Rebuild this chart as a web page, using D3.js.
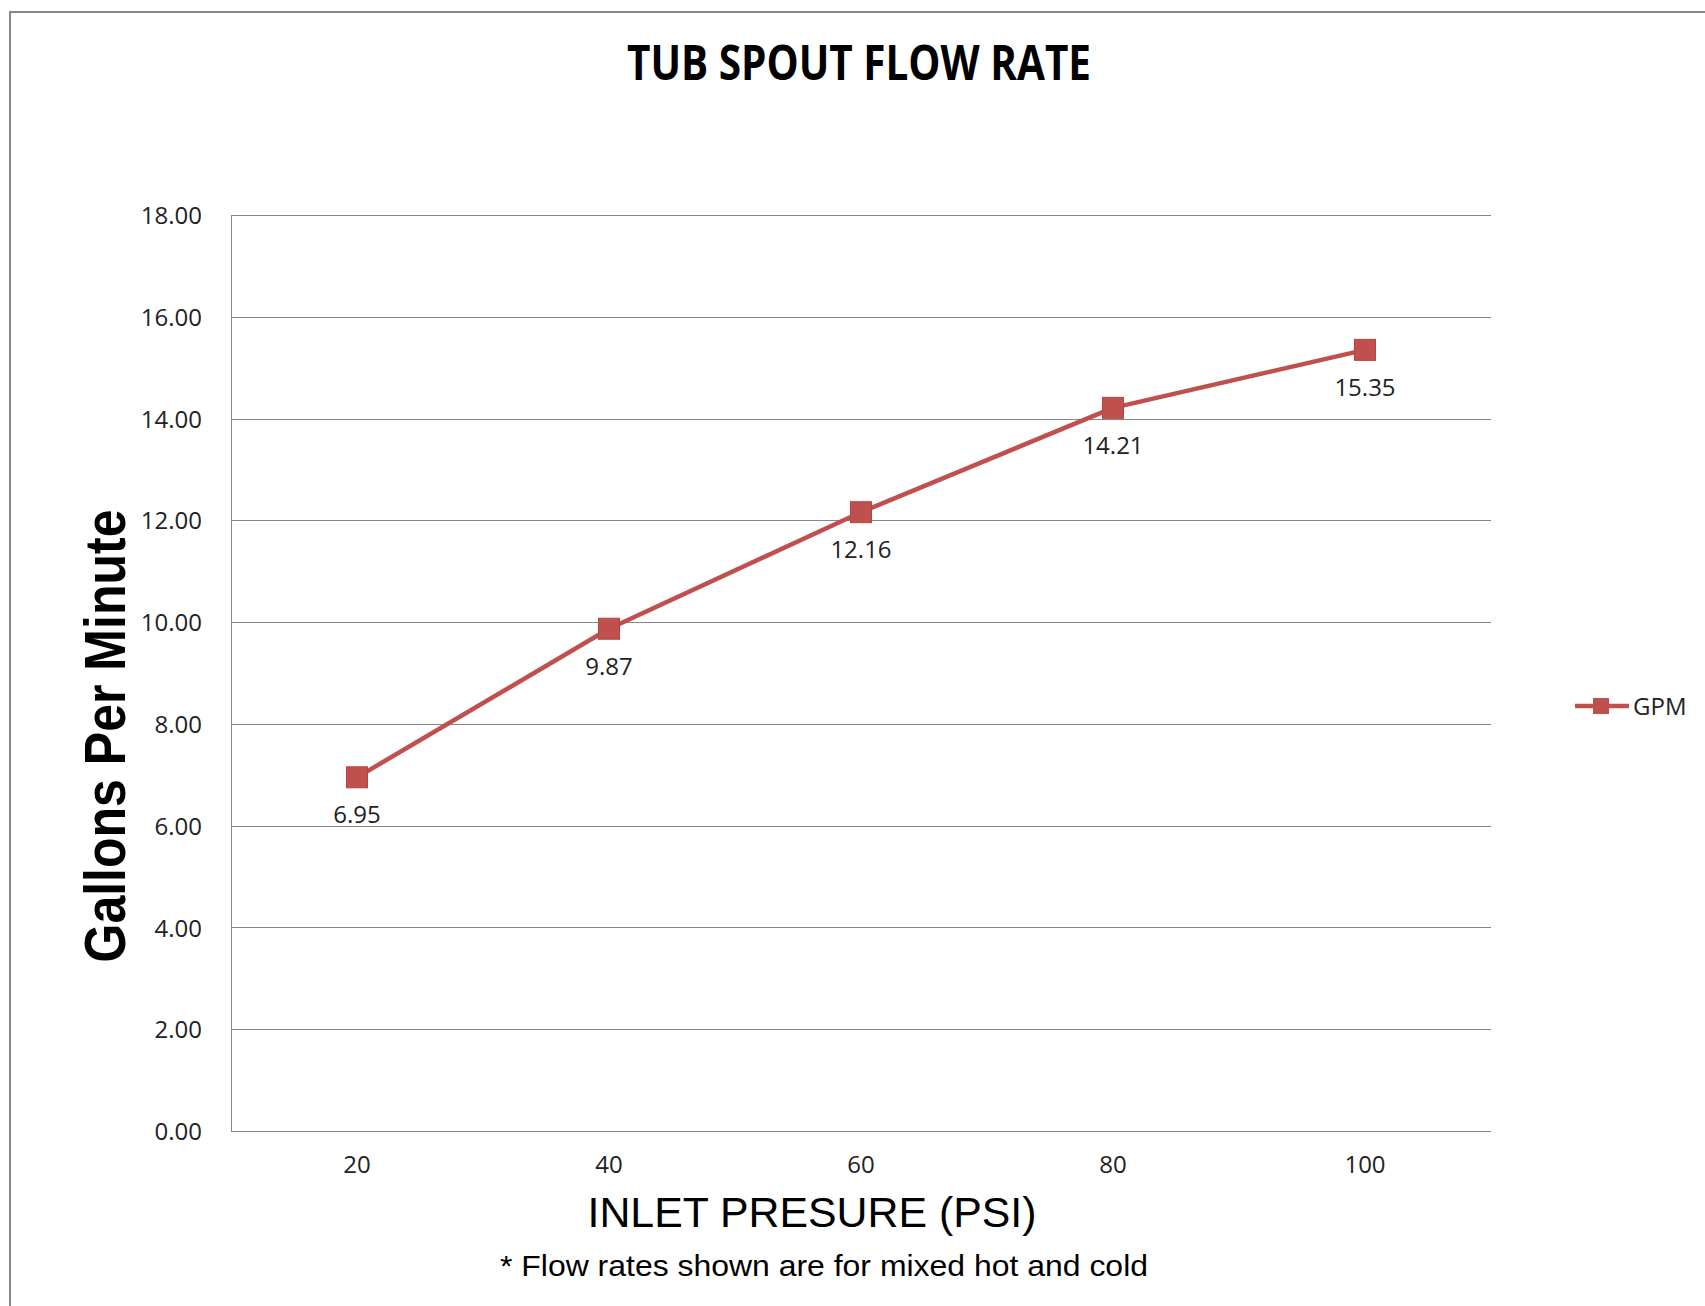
<!DOCTYPE html>
<html>
<head>
<meta charset="utf-8">
<script src="https://cdn.jsdelivr.net/npm/d3@7"></script>
<style>
  html, body { margin: 0; padding: 0; background: #fff; }
  svg { display: block; }
</style>
</head>
<body>
<script>
const categories = ["20", "40", "60", "80", "100"];
const gpmValues = [6.95, 9.87, 12.16, 14.21, 15.35];
const yTickValues = [0, 2, 4, 6, 8, 10, 12, 14, 16, 18];
const seriesName = "GPM";
const titleText = "TUB SPOUT FLOW RATE";
const xTitleText = "INLET PRESURE (PSI)";
const yTitleText = "Gallons Per Minute";
const noteText = "* Flow rates shown are for mixed hot and cold";

const W = 1705, H = 1306;
const plot = { left: 231, right: 1491, top: 215, bottom: 1131 };
const red = "#C0504D";
const grid = "#878787";

const svg = d3.select("body").append("svg").attr("width", W).attr("height", H);

// outer chart border
svg.append("rect").attr("x", 10).attr("y", 12).attr("width", W + 20).attr("height", H + 20)
  .attr("fill", "#fff").attr("stroke", "#888").attr("stroke-width", 2);

const x = d3.scaleBand().domain(categories).range([plot.left, plot.right]).padding(0);
const y = d3.scaleLinear().domain([0, 18]).range([plot.bottom, plot.top]);
const cx = d => x(d) + x.bandwidth() / 2;

// gridlines
svg.append("g").selectAll("line").data(yTickValues).join("line")
  .attr("x1", plot.left).attr("x2", plot.right)
  .attr("y1", d => Math.round(y(d)) + 0.5).attr("y2", d => Math.round(y(d)) + 0.5)
  .attr("stroke", grid).attr("stroke-width", 1);

// left axis line
svg.append("line").attr("x1", plot.left + 0.5).attr("x2", plot.left + 0.5)
  .attr("y1", plot.top).attr("y2", plot.bottom + 1).attr("stroke", grid).attr("stroke-width", 1);

// y axis via d3 axis (labels only)
const yAxis = d3.axisLeft(y).tickValues(yTickValues).tickFormat(d3.format(".2f")).tickSize(0).tickPadding(29);
const yg = svg.append("g").attr("transform", `translate(${plot.left},0)`).call(yAxis);
yg.select(".domain").remove();
yg.selectAll("text").attr("font-family", "'Open Sans'").attr("font-size", 24).attr("fill", "#222").attr("dy", "0.36em");

// x axis labels
const xAxis = d3.axisBottom(x).tickSize(0).tickPadding(0);
const xg = svg.append("g").attr("transform", `translate(0,${plot.bottom})`).call(xAxis);
xg.select(".domain").remove();
xg.selectAll("text").attr("font-family", "'Open Sans'").attr("font-size", 24).attr("fill", "#222")
  .attr("dy", null).attr("y", 42);

// line
const line = d3.line().x((d, i) => cx(categories[i])).y(d => y(d));
svg.append("path").datum(gpmValues).attr("d", line)
  .attr("fill", "none").attr("stroke", red).attr("stroke-width", 4.5).attr("stroke-linejoin", "round");

// markers
const ms = 21;
svg.append("g").selectAll("rect").data(gpmValues).join("rect")
  .attr("x", (d, i) => cx(categories[i]) - ms / 2).attr("y", d => y(d) - ms / 2)
  .attr("width", ms).attr("height", ms).attr("fill", red).attr("stroke", "#b8443f").attr("stroke-width", 1);

// data labels
svg.append("g").selectAll("text").data(gpmValues).join("text")
  .attr("x", (d, i) => cx(categories[i])).attr("y", d => y(d) + 46)
  .attr("text-anchor", "middle").attr("font-family", "'Open Sans'").attr("font-size", 24).attr("fill", "#222")
  .text(d => d3.format(".2f")(d));

// title
svg.append("text").attr("x", 859).attr("y", 80).attr("text-anchor", "middle")
  .attr("font-family", "'Open Sans'").attr("font-weight", "bold").attr("font-size", 48)
  .attr("textLength", 464).attr("lengthAdjust", "spacingAndGlyphs")
  .attr("fill", "#000").text(titleText);

// x title
svg.append("text").attr("x", 812).attr("y", 1227).attr("text-anchor", "middle")
  .attr("font-family", "'Liberation Sans', Arial").attr("font-size", 43)
  .attr("textLength", 449).attr("lengthAdjust", "spacingAndGlyphs")
  .attr("fill", "#000").text(xTitleText);

// note
svg.append("text").attr("x", 824).attr("y", 1276).attr("text-anchor", "middle")
  .attr("font-family", "'Liberation Sans', Arial").attr("font-size", 30)
  .attr("textLength", 648).attr("lengthAdjust", "spacingAndGlyphs")
  .attr("fill", "#000").text(noteText);

// y title
svg.append("text").attr("transform", "translate(125,736) rotate(-90)").attr("text-anchor", "middle")
  .attr("font-family", "'Liberation Sans', Arial").attr("font-weight", "bold").attr("font-size", 57)
  .attr("textLength", 453).attr("lengthAdjust", "spacingAndGlyphs")
  .attr("fill", "#000").text(yTitleText);

// legend
const lg = svg.append("g").attr("transform", "translate(0,706)");
lg.append("line").attr("x1", 1575).attr("x2", 1629).attr("y1", 0).attr("y2", 0)
  .attr("stroke", red).attr("stroke-width", 4.5);
lg.append("rect").attr("x", 1593).attr("y", -8).attr("width", 16).attr("height", 16).attr("fill", red);
lg.append("text").attr("x", 1633).attr("y", 9).attr("font-family", "'Open Sans'").attr("font-size", 24)
  .attr("fill", "#222").text(seriesName);
</script>
</body>
</html>
